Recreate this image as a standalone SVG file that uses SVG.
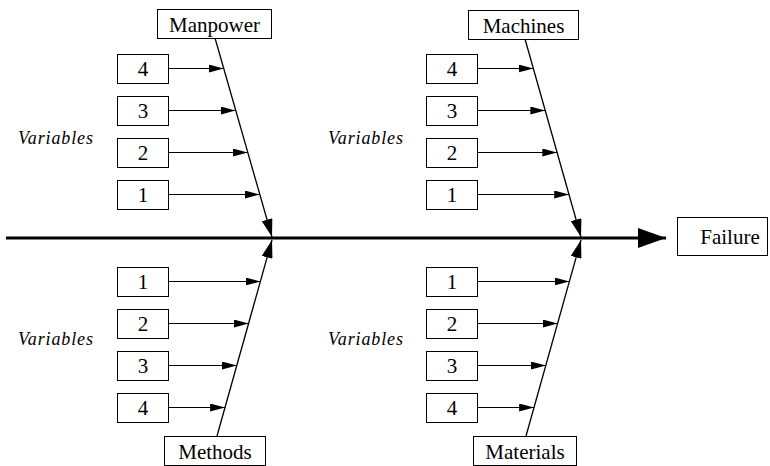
<svg xmlns="http://www.w3.org/2000/svg" width="770" height="466" viewBox="0 0 770 466">
  <style>
    .box { fill: #fff; stroke: #000; stroke-width: 1; }
    .lbl { font-size: 21px; fill: #000; text-anchor: middle; }
    .var { font-size: 18px; font-style: italic; fill: #000; }
    .edge { stroke: #000; stroke-width: 1; fill: none; }
    .spine { stroke: #000; stroke-width: 1.3; fill: none; }
  </style>
  <defs>
    <marker id="arr" viewBox="0 0 15 8" refX="15" refY="4" markerWidth="15" markerHeight="8" markerUnits="userSpaceOnUse" orient="auto">
      <path d="M0,0 L15,4 L0,8 Z" fill="#000"/>
    </marker>
    <marker id="arrBig" viewBox="0 0 18 11" refX="18" refY="5.5" markerWidth="18" markerHeight="11" markerUnits="userSpaceOnUse" orient="auto">
      <path d="M0,0 L18,5.5 L0,11 Z" fill="#000"/>
    </marker>
    <marker id="arrMain" viewBox="0 0 28 20" refX="28" refY="10" markerWidth="28" markerHeight="20" markerUnits="userSpaceOnUse" orient="auto">
      <path d="M0,0 L28,10 L0,20 Z" fill="#000"/>
    </marker>
  </defs>

  <!-- connectors -->
  <g id="connectors">
    <!-- main backbone -->
    <line x1="6" y1="238" x2="666" y2="238" stroke="#000" stroke-width="3" marker-end="url(#arrMain)"/>
    <!-- category spines -->
    <line class="spine" x1="215" y1="38" x2="272" y2="237" marker-end="url(#arrBig)"/>
    <line class="spine" x1="217" y1="436" x2="272" y2="240" marker-end="url(#arrBig)"/>
    <line class="spine" x1="525" y1="39" x2="581" y2="237" marker-end="url(#arrBig)"/>
    <line class="spine" x1="526" y1="436" x2="581" y2="240" marker-end="url(#arrBig)"/>
    <!-- Manpower variables -->
    <line class="edge" x1="168" y1="68.5" x2="223.6" y2="68.5" marker-end="url(#arr)"/>
    <line class="edge" x1="168" y1="110.5" x2="235.6" y2="110.5" marker-end="url(#arr)"/>
    <line class="edge" x1="168" y1="152.5" x2="247.7" y2="152.5" marker-end="url(#arr)"/>
    <line class="edge" x1="168" y1="194.5" x2="259.7" y2="194.5" marker-end="url(#arr)"/>
    <!-- Methods variables -->
    <line class="edge" x1="168" y1="281.5" x2="260.5" y2="281.5" marker-end="url(#arr)"/>
    <line class="edge" x1="168" y1="323.5" x2="248.7" y2="323.5" marker-end="url(#arr)"/>
    <line class="edge" x1="168" y1="365.5" x2="236.9" y2="365.5" marker-end="url(#arr)"/>
    <line class="edge" x1="168" y1="407.5" x2="225.1" y2="407.5" marker-end="url(#arr)"/>
    <!-- Machines variables -->
    <line class="edge" x1="477" y1="68.5" x2="533.5" y2="68.5" marker-end="url(#arr)"/>
    <line class="edge" x1="477" y1="110.5" x2="545.4" y2="110.5" marker-end="url(#arr)"/>
    <line class="edge" x1="477" y1="152.5" x2="557.3" y2="152.5" marker-end="url(#arr)"/>
    <line class="edge" x1="477" y1="194.5" x2="569.2" y2="194.5" marker-end="url(#arr)"/>
    <!-- Materials variables -->
    <line class="edge" x1="477" y1="281.5" x2="569.5" y2="281.5" marker-end="url(#arr)"/>
    <line class="edge" x1="477" y1="323.5" x2="557.7" y2="323.5" marker-end="url(#arr)"/>
    <line class="edge" x1="477" y1="365.5" x2="545.9" y2="365.5" marker-end="url(#arr)"/>
    <line class="edge" x1="477" y1="407.5" x2="534.1" y2="407.5" marker-end="url(#arr)"/>
  </g>

  <g font-family="Liberation Serif, serif">
  <!-- category heads -->
  <g id="manpower">
    <rect class="box" x="157.5" y="9.5" width="114" height="29"/>
    <text class="lbl" x="214.5" y="31.5">Manpower</text>
  </g>
  <g id="machines">
    <rect class="box" x="468.5" y="10.5" width="110" height="29"/>
    <text class="lbl" x="523.5" y="32.5">Machines</text>
  </g>
  <g id="methods">
    <rect class="box" x="164.5" y="436.5" width="101" height="29"/>
    <text class="lbl" x="215" y="458.5">Methods</text>
  </g>
  <g id="materials">
    <rect class="box" x="473.5" y="436.5" width="103" height="29"/>
    <text class="lbl" x="525" y="458.5">Materials</text>
  </g>
  <g id="failure">
    <rect class="box" x="677.5" y="217.5" width="90" height="38"/>
    <text class="lbl" x="730" y="243.5">Failure</text>
  </g>

  <!-- variable boxes: Manpower -->
  <g id="mp4"><rect class="box" x="117.5" y="54.5" width="51" height="29"/><text class="lbl" x="143" y="76">4</text></g>
  <g id="mp3"><rect class="box" x="117.5" y="96.5" width="51" height="29"/><text class="lbl" x="143" y="118">3</text></g>
  <g id="mp2"><rect class="box" x="117.5" y="138.5" width="51" height="29"/><text class="lbl" x="143" y="160">2</text></g>
  <g id="mp1"><rect class="box" x="117.5" y="180.5" width="51" height="29"/><text class="lbl" x="143" y="202">1</text></g>
  <!-- variable boxes: Methods -->
  <g id="me1"><rect class="box" x="117.5" y="267.5" width="51" height="29"/><text class="lbl" x="143" y="289">1</text></g>
  <g id="me2"><rect class="box" x="117.5" y="309.5" width="51" height="29"/><text class="lbl" x="143" y="331">2</text></g>
  <g id="me3"><rect class="box" x="117.5" y="351.5" width="51" height="29"/><text class="lbl" x="143" y="373">3</text></g>
  <g id="me4"><rect class="box" x="117.5" y="393.5" width="51" height="29"/><text class="lbl" x="143" y="415">4</text></g>
  <!-- variable boxes: Machines -->
  <g id="ma4"><rect class="box" x="426.5" y="54.5" width="51" height="29"/><text class="lbl" x="452" y="76">4</text></g>
  <g id="ma3"><rect class="box" x="426.5" y="96.5" width="51" height="29"/><text class="lbl" x="452" y="118">3</text></g>
  <g id="ma2"><rect class="box" x="426.5" y="138.5" width="51" height="29"/><text class="lbl" x="452" y="160">2</text></g>
  <g id="ma1"><rect class="box" x="426.5" y="180.5" width="51" height="29"/><text class="lbl" x="452" y="202">1</text></g>
  <!-- variable boxes: Materials -->
  <g id="mt1"><rect class="box" x="426.5" y="267.5" width="51" height="29"/><text class="lbl" x="452" y="289">1</text></g>
  <g id="mt2"><rect class="box" x="426.5" y="309.5" width="51" height="29"/><text class="lbl" x="452" y="331">2</text></g>
  <g id="mt3"><rect class="box" x="426.5" y="351.5" width="51" height="29"/><text class="lbl" x="452" y="373">3</text></g>
  <g id="mt4"><rect class="box" x="426.5" y="393.5" width="51" height="29"/><text class="lbl" x="452" y="415">4</text></g>

  <!-- side captions -->
  <g id="captions">
    <text class="var" x="18" y="144" textLength="75">Variables</text>
    <text class="var" x="18" y="345" textLength="75">Variables</text>
    <text class="var" x="328" y="144" textLength="75">Variables</text>
    <text class="var" x="328" y="345" textLength="75">Variables</text>
  </g>
  </g>
</svg>
